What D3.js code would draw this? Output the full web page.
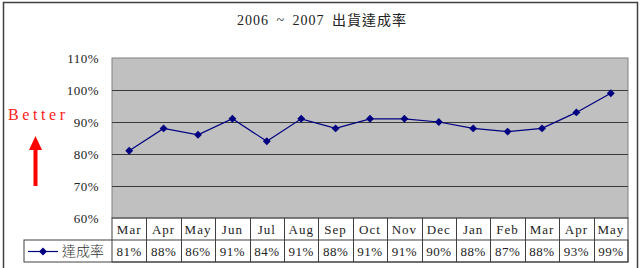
<!DOCTYPE html>
<html>
<head>
<meta charset="utf-8">
<script src="https://cdn.jsdelivr.net/npm/d3@7"></script>
<style>
  body { margin: 0; background: #fff; }
  svg text { font-family: "Liberation Serif", "Noto Sans CJK TC", serif; }
</style>
</head>
<body>
<div id="chart"></div>
<script>
const months = ['Mar', 'Apr', 'May', 'Jun', 'Jul', 'Aug', 'Sep', 'Oct', 'Nov', 'Dec', 'Jan', 'Feb', 'Mar', 'Apr', 'May'];
const rates = [81, 88, 86, 91, 84, 91, 88, 91, 91, 90, 88, 87, 88, 93, 99];
const yTicks = [60, 70, 80, 90, 100, 110];
const seriesName = '達成率';
const titleText = '2006 ~ 2007 出貨達成率';

const W = 642, H = 268;
const margin = { top: 58, right: 14, bottom: 50, left: 112 };
const width = W - margin.left - margin.right;
const height = H - margin.top - margin.bottom;
const rowH = 22;

const svg = d3.select('#chart')
    .append('svg')
    .attr('width', W)
    .attr('height', H);

// outer frame
svg.append('rect')
    .attr('x', 3.5).attr('y', 2.5)
    .attr('width', 634).attr('height', 270)
    .attr('fill', '#fff')
    .attr('stroke', '#404040')
    .attr('stroke-width', 1.5);

svg.append('text')
    .attr('x', 322).attr('y', 25)
    .attr('text-anchor', 'middle')
    .style('font-size', '14px')
    .style('fill', '#222')
    .style('letter-spacing', '1px')
    .style('word-spacing', '3px')
    .text(titleText);

const g = svg.append('g')
    .attr('transform', `translate(${margin.left},${margin.top})`);

const x = d3.scaleBand()
    .domain(months.map((m, i) => i))
    .range([0, width])
    .padding(0);

const y = d3.scaleLinear()
    .domain([60, 110])
    .range([160, 0]);

g.append('rect')
    .attr('width', width)
    .attr('height', 160)
    .attr('fill', '#c0c0c0')
    .attr('stroke', '#808080');

g.selectAll('.grid')
    .data(yTicks.slice(1, -1))
    .enter()
    .append('line')
    .attr('class', 'grid')
    .attr('x1', 0).attr('x2', width)
    .attr('y1', d => Math.round(y(d)) + 0.5)
    .attr('y2', d => Math.round(y(d)) + 0.5)
    .attr('stroke', '#3a3a3a');

const yAxis = g.append('g')
    .attr('transform', 'translate(-10,0)')
    .call(d3.axisLeft(y).tickValues(yTicks).tickFormat(d => d + '%').tickSize(0));
yAxis.select('.domain').remove();
yAxis.selectAll('text')
    .style('font-size', '13px')
    .style('font-family', '"Liberation Serif", serif')
    .style('letter-spacing', '0.5px')
    .style('fill', '#222');

const line = d3.line()
    .x((d, i) => x(i) + x.bandwidth() / 2)
    .y(d => y(d));

g.append('path')
    .datum(rates)
    .attr('d', line)
    .attr('fill', 'none')
    .attr('stroke', '#000080')
    .attr('stroke-width', 1.2);

const diamond = d3.symbol().type(d3.symbolDiamond2).size(40);

g.selectAll('.pt')
    .data(rates)
    .enter()
    .append('path')
    .attr('class', 'pt')
    .attr('d', diamond)
    .attr('transform', (d, i) => `translate(${x(i) + x.bandwidth() / 2},${y(d)})`)
    .attr('fill', '#000080');

// data table under the plot
const table = g.append('g').attr('transform', 'translate(0,160)');
const tableStroke = '#404040';

table.append('rect')
    .attr('x', 0).attr('y', 0)
    .attr('width', width).attr('height', rowH * 2)
    .attr('fill', 'none').attr('stroke', tableStroke);
table.append('rect')
    .attr('x', -88).attr('y', rowH)
    .attr('width', 88 + width).attr('height', rowH)
    .attr('fill', 'none').attr('stroke', tableStroke);

table.selectAll('.col')
    .data(months.slice(1).map((m, i) => i + 1))
    .enter()
    .append('line')
    .attr('class', 'col')
    .attr('x1', d => Math.round(x(d)) + 0.5)
    .attr('x2', d => Math.round(x(d)) + 0.5)
    .attr('y1', 0).attr('y2', rowH * 2)
    .attr('stroke', tableStroke);

table.selectAll('.mon')
    .data(months)
    .enter()
    .append('text')
    .attr('class', 'mon')
    .attr('x', (d, i) => x(i) + x.bandwidth() / 2)
    .attr('y', 16)
    .attr('text-anchor', 'middle')
    .style('font-size', '13px')
    .style('letter-spacing', '1px')
    .style('fill', '#222')
    .text(d => d);

table.selectAll('.val')
    .data(rates)
    .enter()
    .append('text')
    .attr('class', 'val')
    .attr('x', (d, i) => x(i) + x.bandwidth() / 2)
    .attr('y', rowH + 16)
    .attr('text-anchor', 'middle')
    .style('font-size', '13px')
    .style('letter-spacing', '0.5px')
    .style('fill', '#222')
    .text(d => d + '%');

// legend key in the table
table.append('line')
    .attr('x1', -84).attr('x2', -54)
    .attr('y1', rowH + 11.5).attr('y2', rowH + 11.5)
    .attr('stroke', '#000080').attr('stroke-width', 1.2);
table.append('path')
    .attr('d', diamond)
    .attr('transform', `translate(-69,${rowH + 11.5})`)
    .attr('fill', '#000080');
table.append('text')
    .attr('x', -50).attr('y', rowH + 16)
    .style('font-size', '14px')
    .style('fill', '#333')
    .style('font-weight', '300')
    .text(seriesName);

// "Better" annotation with arrow
svg.append('text')
    .attr('x', 8).attr('y', 120)
    .style('font-size', '16px')
    .style('letter-spacing', '3.6px')
    .style('fill', '#ff2020')
    .text('Better');

svg.append('path')
    .attr('d', 'M35.5,136 L42,150 L37.5,150 L37.5,186 L33.5,186 L33.5,150 L29,150 Z')
    .attr('fill', '#ff0000');
</script>
</body>
</html>
